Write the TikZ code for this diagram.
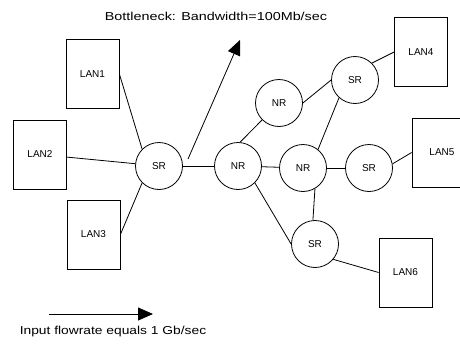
\documentclass[tikz,border=0pt]{standalone}
\usepackage{fontspec}
\setmainfont{Liberation Sans}
\usepackage{tikz}
\usetikzlibrary{arrows.meta}
\tikzstyle{lan}=[rectangle, draw, thick, minimum width=53pt, minimum height=69pt, inner sep=0pt, font=\fontsize{10}{12}\selectfont]
\tikzstyle{router}=[circle, draw, thick, minimum size=47pt, inner sep=0pt, font=\fontsize{10}{12}\selectfont]
\tikzstyle{arrow}=[draw=black, thick, -{Triangle[length=15pt, width=13pt]}]
\tikzstyle{caption}=[font=\fontsize{11.5}{13}\selectfont, transform shape]

\begin{document}
\begin{tikzpicture}[x=1pt, y=-1pt, thick]
		   \useasboundingbox (0, 0) rectangle (460, 343);
		   \clip (0, 0) rectangle (460, 343);
		   \begin{scope}
			   \node (title) at (216, 16) [caption, xscale=1.25] {Bottleneck: Bandwidth=100Mb/sec};

			   \node (lan1) at (92.5, 74) [lan] {LAN1};
			   \node (lan2) at (40, 154.5) [lan] {LAN2};
			   \node (lan3) at (93.5, 234.5) [lan] {LAN3};
			   \node (lan4) at (421, 52) [lan] {LAN4};
			   \node (lan5) at (442, 152.5) [lan, minimum width=60pt] {LAN5};
			   \node (lan6) at (405.5, 272.5) [lan] {LAN6};

			   \node (sr1) at (159, 166) [router] {SR};
			   \node (nr1) at (238, 166) [router] {NR};
			   \node (nrt) at (279, 103) [router] {NR};
			   \node (nrm) at (303, 168) [router] {NR};
			   \node (srt) at (355, 80) [router] {SR};
			   \node (srm) at (369, 168) [router] {SR};
			   \node (srb) at (315, 244) [router] {SR};

			   \coordinate (out0) at (188, 159);
			   \coordinate (out1) at (240, 40);
			   \coordinate (in0) at (49, 314);
			   \coordinate (in1) at (153, 314);
			   \node (input) at (113, 332) [caption, xscale=1.2] {Input flowrate equals 1 Gb/sec};
		   \end{scope}
		   \begin{scope}
			   \path [-] (sr1.135) edge (lan1.east);
			   \path [-] (lan2) edge (sr1);
			   \path [-] (sr1.225) edge (lan3.east);
			   \path [-] (sr1) edge (nr1);

			   \path [-] (nr1.85) edge (nrt.225);
			   \path [-] (nrt.east) edge (srt.west);
			   \path [-] (srt.45) edge (lan4.west);
			   \path [-] (srt.228) edge (nrm.51);

			   \path [-] (nr1) edge (nrm);
			   \path [-] (nrm) edge (srm);
			   \path [-] (srm.10) edge (lan5.west);

			   \path [-] (nrm.300) edge (srb.95);
			   \path [-] (nr1.315) edge (srb.west);
			   \path [-] (srb.320) edge (lan6.west);

			   \path [arrow] (out0) -- (out1);
			   \path [arrow] (in0) -- (in1);
		   \end{scope}
	   \end{tikzpicture}
\end{document}
